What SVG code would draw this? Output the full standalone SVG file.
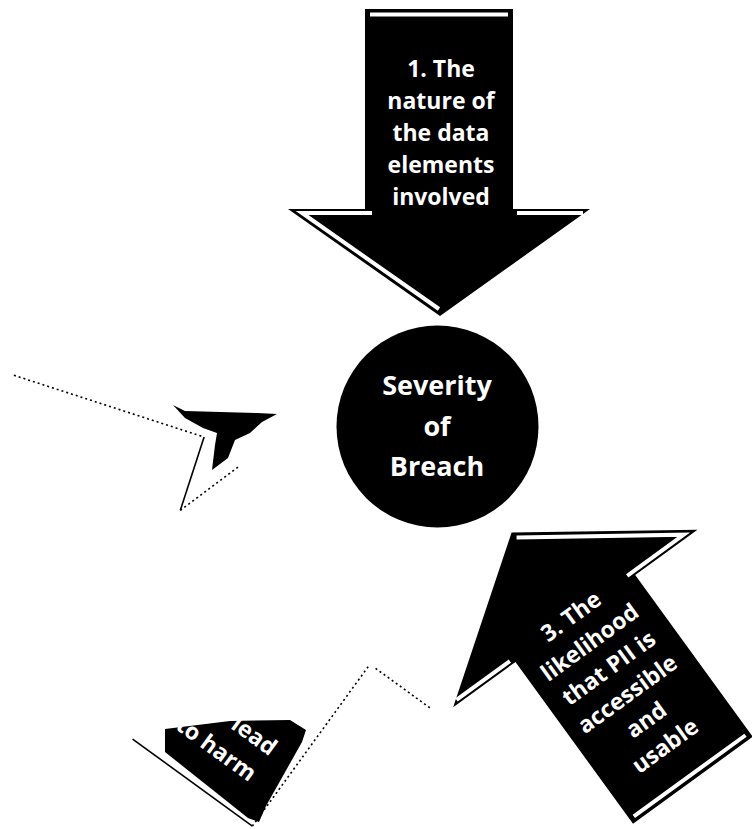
<svg xmlns="http://www.w3.org/2000/svg" width="752" height="829" viewBox="0 0 752 829">
<style>
  .arrow{fill:#000}
  .bevel{fill:none;stroke:#fff;stroke-width:4}
  .lbl{font-family:"Open Sans","Liberation Sans",sans-serif;font-size:23px;font-weight:700;fill:#fff;text-anchor:middle}
  .ctr{font-family:"Open Sans","Liberation Sans",sans-serif;font-size:27px;font-weight:700;fill:#fff;text-anchor:middle}
  .dots{fill:none;stroke:#000;stroke-width:1.6;stroke-dasharray:2 3}
  .thin{fill:none;stroke:#000;stroke-width:1.6}
  .patch{fill:#000}
</style>
<defs>
  <path id="arrowShape" d="M-73,-418 H75 V-218 H152 L2,-111 L-150,-218 H-73 Z"/>
  <path id="arrowBevel" d="M-68,-412.5 H70 M-66,-214 H-136 L1,-118 M79,-214 H145"/>
</defs>
<rect width="752" height="829" fill="#fff"/>
<g id="connectors"></g>

<g id="factor1">
  <g transform="translate(438,427)">
    <use href="#arrowShape" class="arrow"/>
    <use href="#arrowBevel" class="bevel"/>
  </g>
  <text class="lbl" x="441" y="77">1. The</text>
  <text class="lbl" x="441" y="109">nature of</text>
  <text class="lbl" x="441" y="141">the data</text>
  <text class="lbl" x="441" y="173">elements</text>
  <text class="lbl" x="441" y="205">involved</text>
</g>

<g id="factor2-faded">
  <g transform="translate(434,435) rotate(-72)">
    <path class="dots" d="M-73,-418 V-218"/>
    <path class="thin" d="M-73,-218 H-150"/>
    <path class="dots" d="M-150,-218 L-89,-175"/>
  </g>
  <polygon class="patch" points="173,405 185,411 257,413 277,414 262,422 250,433 235,440 228,458 212,470 215,445 217,433 203,428 185,418"/>
</g>

<g id="factor3">
  <g transform="translate(448,441.5) rotate(144)">
    <use href="#arrowShape" class="arrow"/>
    <use href="#arrowBevel" class="bevel"/>
  </g>
  <g transform="translate(618,681) rotate(-36)">
    <text class="lbl" x="0" y="-72">3. The</text>
    <text class="lbl" x="0" y="-40">likelihood</text>
    <text class="lbl" x="0" y="-8">that PII is</text>
    <text class="lbl" x="0" y="24">accessible</text>
    <text class="lbl" x="0" y="56">and</text>
    <text class="lbl" x="0" y="88">usable</text>
  </g>
</g>

<g id="factor4-faded">
  <g transform="translate(439,445) rotate(-144)">
    <path class="thin" d="M-73,-418 H75"/>
    <path class="dots" d="M-73,-418 V-218"/>
    <path class="dots" d="M-80,-218 H-150"/>
  </g>
  <polygon class="patch" points="165,729 230,721 290,720 306,730 302,742 266,806 259,822 248,818 165,752"/>
  <g transform="translate(217,748) rotate(36)">
    <text class="lbl" x="23" y="-24">lead</text>
    <text class="lbl" x="0" y="9">to harm</text>
  </g>
</g>

<g id="severity">
  <circle cx="437.5" cy="426.5" r="101" fill="#000"/>
  <text class="ctr" x="437" y="395">Severity</text>
  <text class="ctr" x="437" y="436">of</text>
  <text class="ctr" x="437" y="476">Breach</text>
</g>
</svg>
